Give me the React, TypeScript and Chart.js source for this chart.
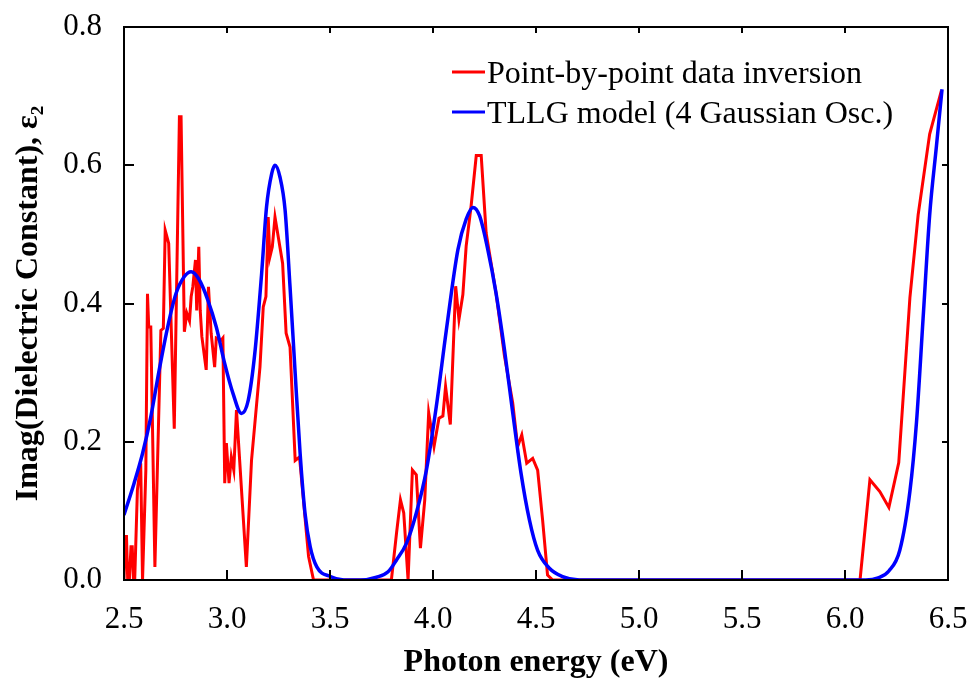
import React, { useEffect, useRef } from 'react';
import { Chart, registerables } from 'chart.js';

Chart.register(...registerables);

// ---- data ----
const redX = [
  2.5, 2.506, 2.512, 2.518, 2.526, 2.534, 2.54, 2.546, 2.552, 2.565, 2.581, 2.59, 2.606, 2.614, 2.62, 2.63,
  2.65, 2.679, 2.691, 2.7, 2.717, 2.744, 2.769, 2.777, 2.793, 2.805, 2.818, 2.826, 2.834, 2.847, 2.853, 2.863,
  2.87, 2.878, 2.899, 2.91, 2.923, 2.94, 2.948, 2.972, 2.98, 2.989, 2.997, 3.01, 3.021, 3.033, 3.046, 3.094,
  3.119, 3.16, 3.176, 3.189, 3.2, 3.208, 3.22, 3.233, 3.27, 3.287, 3.306, 3.331, 3.352, 3.396, 3.42, 3.798,
  3.823, 3.842, 3.858, 3.879, 3.9, 3.919, 3.939, 3.96, 3.979, 4.005, 4.029, 4.048, 4.061, 4.084, 4.11, 4.126,
  4.145, 4.161, 4.185, 4.21, 4.234, 4.258, 4.306, 4.347, 4.387, 4.411, 4.431, 4.455, 4.484, 4.508, 4.532, 4.556,
  4.581, 6.073, 6.121, 6.169, 6.213, 6.261, 6.315, 6.355, 6.411, 6.468,
];
const redY = [
  0, 0.063, 0.063, 0, 0, 0.048, 0.048, 0, 0, 0.13, 0.169, 0, 0.159, 0.414, 0.366, 0.366,
  0.019, 0.361, 0.364, 0.506, 0.487, 0.219, 0.67, 0.67, 0.359, 0.386, 0.375, 0.41, 0.424, 0.463, 0.39, 0.482,
  0.39, 0.352, 0.304, 0.424, 0.357, 0.308, 0.35, 0.347, 0.35, 0.14, 0.198, 0.14, 0.178, 0.159, 0.246, 0.019,
  0.173, 0.308, 0.395, 0.41, 0.525, 0.467, 0.482, 0.525, 0.458, 0.357, 0.337, 0.173, 0.178, 0.034, 0, 0,
  0.068, 0.116, 0.097, 0, 0.159, 0.152, 0.046, 0.116, 0.242, 0.193, 0.234, 0.237, 0.28, 0.225, 0.425, 0.377,
  0.413, 0.483, 0.541, 0.614, 0.614, 0.502, 0.415, 0.324, 0.256, 0.193, 0.21, 0.169, 0.176, 0.159, 0.087, 0.007,
  0, 0, 0.145, 0.128, 0.105, 0.17, 0.408, 0.528, 0.645, 0.708,
];

const blueX = [
  2.5, 2.549, 2.59, 2.63, 2.671, 2.712, 2.752, 2.793, 2.826, 2.866, 2.907, 2.948, 2.989, 3.029, 3.07, 3.103,
  3.135, 3.168, 3.192, 3.217, 3.233, 3.257, 3.282, 3.306, 3.331, 3.355, 3.379, 3.404, 3.436, 3.502, 3.567, 3.65,
  3.726, 3.782, 3.823, 3.871, 3.919, 3.968, 4.016, 4.065, 4.121, 4.161, 4.194, 4.226, 4.266, 4.306, 4.347, 4.387,
  4.427, 4.468, 4.508, 4.565, 4.629, 4.71, 6.1, 6.161, 6.213, 6.266, 6.315, 6.347, 6.379, 6.411, 6.444, 6.471,
];
const blueY = [
  0.094, 0.14, 0.183, 0.236, 0.304, 0.366, 0.414, 0.439, 0.446, 0.434, 0.405, 0.366, 0.313, 0.27, 0.241, 0.26,
  0.328, 0.443, 0.54, 0.588, 0.6, 0.583, 0.535, 0.424, 0.299, 0.183, 0.096, 0.048, 0.019, 0.005, 0, 0,
  0.004, 0.012, 0.029, 0.053, 0.097, 0.159, 0.251, 0.362, 0.478, 0.522, 0.539, 0.527, 0.478, 0.415, 0.333, 0.242,
  0.155, 0.087, 0.043, 0.017, 0.005, 0, 0, 0.003, 0.013, 0.043, 0.128, 0.228, 0.378, 0.528, 0.628, 0.71,
];

const xTicks = [2.5, 3.0, 3.5, 4.0, 4.5, 5.0, 5.5, 6.0, 6.5];
const yTicks = [0.0, 0.2, 0.4, 0.6, 0.8];
const seriesLabels = ['Point-by-point data inversion', 'TLLG model (4 Gaussian Osc.)'];
const seriesColors = ['#ff0000', '#0000ff'];
const xTitle = 'Photon energy (eV)';
const yTitle = 'Imag(Dielectric Constant), ε₂';

const FONT = "'Liberation Serif', 'Times New Roman', 'DejaVu Serif', serif";

const framePlugin = {
  id: 'frameAndLegend',
  afterDatasetsDraw(chart: any) {
    const { ctx, chartArea: a, scales } = chart;
    ctx.save();
    ctx.strokeStyle = '#000';
    ctx.lineWidth = 2;
    ctx.strokeRect(a.left, a.top, a.right - a.left, a.bottom - a.top);
    ctx.beginPath();
    xTicks.forEach((v) => {
      const px = Math.round(scales.x.getPixelForValue(v));
      ctx.moveTo(px, a.bottom);
      ctx.lineTo(px, a.bottom - 10);
      ctx.moveTo(px, a.top);
      ctx.lineTo(px, a.top + 6);
    });
    yTicks.forEach((v) => {
      const py = Math.round(scales.y.getPixelForValue(v));
      ctx.moveTo(a.left, py);
      ctx.lineTo(a.left + 10, py);
      ctx.moveTo(a.right, py);
      ctx.lineTo(a.right - 6, py);
    });
    ctx.stroke();

    // legend
    const lx0 = a.left + 328;
    const lx1 = lx0 + 33;
    const rows = [72, 112];
    chart.data.datasets.forEach((ds: any, i: number) => {
      const y = rows[i];
      ctx.strokeStyle = ds.borderColor;
      ctx.lineWidth = 3;
      ctx.beginPath();
      ctx.moveTo(lx0, y);
      ctx.lineTo(lx1, y);
      ctx.stroke();
      ctx.fillStyle = '#000';
      ctx.font = `32px ${FONT}`;
      ctx.textBaseline = 'alphabetic';
      ctx.textAlign = 'left';
      ctx.fillText(ds.label, lx1 + 2, y + 11);
    });
    ctx.restore();
  },
};

export default function App() {
  const ref = useRef<HTMLCanvasElement | null>(null);

  useEffect(() => {
    document.body.style.margin = '0';
    const canvas = ref.current;
    if (!canvas) return;
    const chart = new Chart(canvas, {
      type: 'line',
      data: {
        datasets: [
          {
            label: seriesLabels[0],
            data: redX.map((x, i) => ({ x, y: redY[i] })),
            borderColor: seriesColors[0],
            borderWidth: 3,
            pointRadius: 0,
            tension: 0,
            fill: false,
            order: 1,
          },
          {
            label: seriesLabels[1],
            data: blueX.map((x, i) => ({ x, y: blueY[i] })),
            borderColor: seriesColors[1],
            borderWidth: 3.5,
            pointRadius: 0,
            cubicInterpolationMode: 'monotone',
            fill: false,
            order: 0,
          },
        ],
      },
      options: {
        animation: false,
        responsive: false,
        devicePixelRatio: 1,
        layout: { padding: { left: 0, right: 19, top: 27, bottom: 0 } },
        plugins: {
          legend: { display: false },
          tooltip: { enabled: false },
        },
        scales: {
          x: {
            type: 'linear',
            min: 2.5,
            max: 6.5,
            afterBuildTicks: (s: any) => {
              s.ticks = xTicks.map((v) => ({ value: v }));
            },
            afterFit: (s: any) => {
              s.height = 98;
              s.paddingLeft = 0;
              s.paddingRight = 0;
            },
            ticks: {
              callback: (v: any) => Number(v).toFixed(1),
              font: { family: FONT, size: 31 },
              color: '#000',
              padding: 21,
              maxRotation: 0,
              autoSkip: false,
            },
            grid: { display: false, drawTicks: false },
            border: { display: false },
            title: {
              display: true,
              text: xTitle,
              font: { family: FONT, size: 32, weight: 'bold' },
              color: '#000',
              padding: { top: 0, bottom: -4 },
            },
          },
          y: {
            type: 'linear',
            min: 0,
            max: 0.8,
            afterBuildTicks: (s: any) => {
              s.ticks = yTicks.map((v) => ({ value: v }));
            },
            afterFit: (s: any) => {
              s.width = 124;
              s.paddingTop = 0;
              s.paddingBottom = 0;
            },
            ticks: {
              callback: (v: any) => Number(v).toFixed(1),
              font: { family: FONT, size: 31 },
              color: '#000',
              padding: 22,
              autoSkip: false,
            },
            grid: { display: false, drawTicks: false },
            border: { display: false },
            title: {
              display: true,
              text: yTitle,
              font: { family: FONT, size: 32, weight: 'bold' },
              color: '#000',
              padding: { top: 10, bottom: 0 },
            },
          },
        },
      },
      plugins: [framePlugin],
    } as any);
    return () => chart.destroy();
  }, []);

  return (
    <div style={{ width: 967, height: 678 }}>
      <canvas ref={ref} width={967} height={678} style={{ display: 'block', width: 967, height: 678 }} />
    </div>
  );
}
